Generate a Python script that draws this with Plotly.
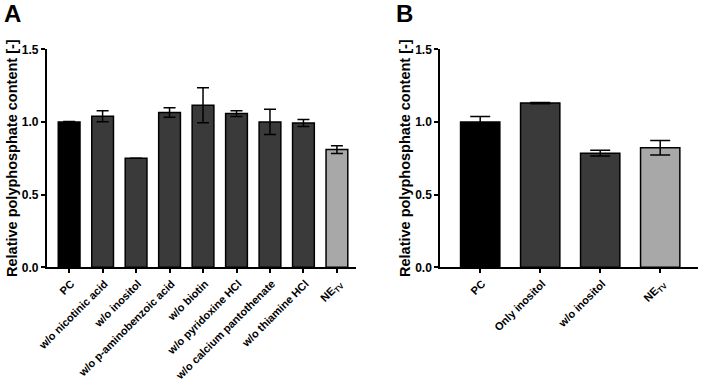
import plotly.graph_objects as go

# Panel A data
cats_a = ["PC", "w/o nicotinic acid", "w/o inositol", "w/o p-aminobenzoic acid",
          "w/o biotin", "w/o pyridoxine HCl", "w/o calcium pantothenate",
          "w/o thiamine HCl", "NE<sub>TV</sub>"]
vals_a = [1.0, 1.04, 0.75, 1.065, 1.115, 1.058, 1.0, 0.993, 0.81]
errs_a = [0.004, 0.038, 0.0, 0.033, 0.12, 0.02, 0.087, 0.024, 0.027]
cols_a = ["#000000"] + ["#3a3a3a"] * 7 + ["#a8a8a8"]

# Panel B data
cats_b = ["PC", "Only inositol", "w/o inositol", "NE<sub>TV</sub>"]
vals_b = [1.0, 1.13, 0.785, 0.822]
errs_b = [0.038, 0.004, 0.02, 0.05]
cols_b = ["#000000", "#3a3a3a", "#3a3a3a", "#a8a8a8"]

y_ticks = [0.0, 0.5, 1.0, 1.5]

W, H = 702, 382
FONT = "Liberation Sans, Arial, sans-serif"

fig = go.Figure()
fig.add_trace(go.Bar(
    x=list(range(len(cats_a))), y=vals_a, width=0.65,
    marker=dict(color=cols_a, line=dict(color="black", width=1.5)),
    error_y=dict(type="data", array=errs_a, color="black", thickness=1.5, width=6),
    xaxis="x", yaxis="y", showlegend=False))
fig.add_trace(go.Bar(
    x=list(range(len(cats_b))), y=vals_b, width=0.655,
    marker=dict(color=cols_b, line=dict(color="black", width=1.5)),
    error_y=dict(type="data", array=errs_b, color="black", thickness=1.5, width=10),
    xaxis="x2", yaxis="y2", showlegend=False))

y0 = 1 - 267.3 / H
y1 = 1 - 49.3 / H

xcommon = dict(showline=True, linecolor="black", linewidth=1.5, ticks="outside",
               ticklen=4, tickwidth=1.5, tickcolor="black", tickangle=-45,
               tickfont=dict(family=FONT, size=11, color="black", weight="bold"),
               ticklabelshift=2, ticklabelstandoff=0,
               showgrid=False, zeroline=False, automargin=False)
ycommon = dict(showline=True, linecolor="black", linewidth=1.5, ticks="outside",
               ticklen=4, tickwidth=1.5, tickcolor="black", tickvals=y_ticks,
               tickformat=".1f", range=[0, 1.5], domain=[y0, y1],
               tickfont=dict(family=FONT, size=12, color="black", weight="bold"),
               showgrid=False, zeroline=False, automargin=False)

fig.update_layout(
    width=W, height=H, margin=dict(l=0, r=0, t=0, b=0, pad=0, autoexpand=False),
    paper_bgcolor="white", plot_bgcolor="white",
    xaxis=dict(**xcommon, domain=[46.7 / W, 356 / W], range=[-0.67, 8.57],
               tickvals=list(range(len(cats_a))), ticktext=cats_a, anchor="y"),
    yaxis=dict(**ycommon, anchor="x"),
    xaxis2=dict(**xcommon, domain=[440 / W, 698 / W], range=[-0.67, 3.63],
                tickvals=list(range(len(cats_b))), ticktext=cats_b, anchor="y2"),
    yaxis2=dict(**ycommon, anchor="x2"),
)

title = "Relative polyphosphate content [-]"
for xpx in (12, 405):
    fig.add_annotation(text=title, x=xpx / W, y=1 - 158 / H, xref="paper", yref="paper",
                       textangle=-90, showarrow=False, xanchor="center", yanchor="middle",
                       font=dict(family=FONT, size=14.5, color="black", weight="bold"))
for lbl, xpx in (("A", 12), ("B", 404)):
    fig.add_annotation(text=lbl, x=xpx / W, y=1 - 14 / H, xref="paper", yref="paper",
                       showarrow=False, xanchor="center", yanchor="middle",
                       font=dict(family=FONT, size=24, color="black", weight="bold"))

fig.write_html("out.html")
